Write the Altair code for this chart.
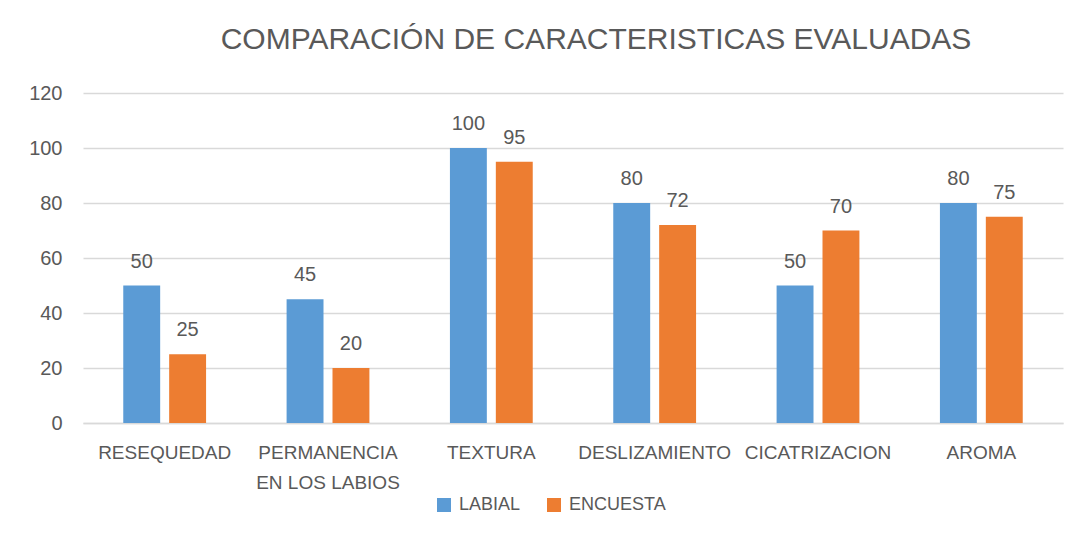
import altair as alt
import pandas as pd

categories = ["RESEQUEDAD", "PERMANENCIA EN LOS LABIOS", "TEXTURA", "DESLIZAMIENTO", "CICATRIZACION", "AROMA"]
labial = [50, 45, 100, 80, 50, 80]
encuesta = [25, 20, 95, 72, 70, 75]
series_names = ["LABIAL", "ENCUESTA"]
colors = ["#5B9BD5", "#ED7D31"]
y_ticks = [0, 20, 40, 60, 80, 100, 120]

rows = []
for c, a, b in zip(categories, labial, encuesta):
    rows.append({"cat": c, "serie": series_names[0], "valor": a})
    rows.append({"cat": c, "serie": series_names[1], "valor": b})
df = pd.DataFrame(rows)

FONT = "Liberation Sans"
GRAY = "#595959"

x_enc = alt.X(
    "cat:N",
    sort=categories,
    scale=alt.Scale(paddingInner=0.493, paddingOuter=0.2465),
    axis=alt.Axis(
        title=None,
        labelAngle=0,
        labelFontSize=19,
        labelFont=FONT,
        labelColor=GRAY,
        labelPadding=20,
        labelLimit=0,
        labelOverlap=False,
        labelLineHeight=30,
        labelExpr="datum.value == 'PERMANENCIA EN LOS LABIOS' ? ['PERMANENCIA', 'EN LOS LABIOS'] : datum.label",
        ticks=False,
        grid=False,
        domain=True,
        domainColor="#D9D9D9",
        domainWidth=1.5,
    ),
)
xoff = alt.XOffset("serie:N", sort=series_names, scale=alt.Scale(paddingInner=0.196, paddingOuter=0))
y_enc = alt.Y(
    "valor:Q",
    scale=alt.Scale(domain=[0, 120], nice=False),
    axis=alt.Axis(
        title=None,
        values=y_ticks,
        labelFontSize=20,
        labelFont=FONT,
        labelColor=GRAY,
        labelPadding=21,
        ticks=False,
        domain=False,
        gridColor="#D9D9D9",
        gridWidth=1.5,
    ),
)

bars = alt.Chart(df).mark_bar().encode(
    x=x_enc,
    xOffset=xoff,
    y=y_enc,
    color=alt.Color(
        "serie:N",
        sort=series_names,
        scale=alt.Scale(domain=series_names, range=colors),
        legend=alt.Legend(
            title=None,
            orient="none",
            legendX=352,
            legendY=403,
            direction="horizontal",
            symbolType="square",
            symbolSize=196,
            symbolStrokeWidth=0,
            labelFontSize=18,
            labelFont=FONT,
            labelColor=GRAY,
            columnPadding=24,
            labelOffset=6,
            padding=0,
        ),
    ),
)

labels = alt.Chart(df).mark_text(
    baseline="alphabetic", dy=-18, fontSize=20, font=FONT, color=GRAY
).encode(
    x=alt.X("cat:N", sort=categories),
    xOffset=alt.XOffset("serie:N", sort=series_names),
    y=alt.Y("valor:Q"),
    text=alt.Text("valor:Q"),
)

chart = (
    alt.layer(bars, labels)
    .properties(
        width=980,
        height=330,
        background="white",
        title=alt.TitleParams(
            "COMPARACIÓN DE CARACTERISTICAS EVALUADAS",
            fontSize=30,
            font=FONT,
            color=GRAY,
            fontWeight="normal",
            anchor="middle",
            dx=23,
            offset=28,
        ),
        autosize=alt.AutoSizeParams(type="none"),
        padding={"left": 75, "top": 85, "right": 6, "bottom": 100},
    )
    .configure_view(strokeWidth=0)
)

chart.save("out.html", embed_options={"renderer": "svg", "actions": False})
